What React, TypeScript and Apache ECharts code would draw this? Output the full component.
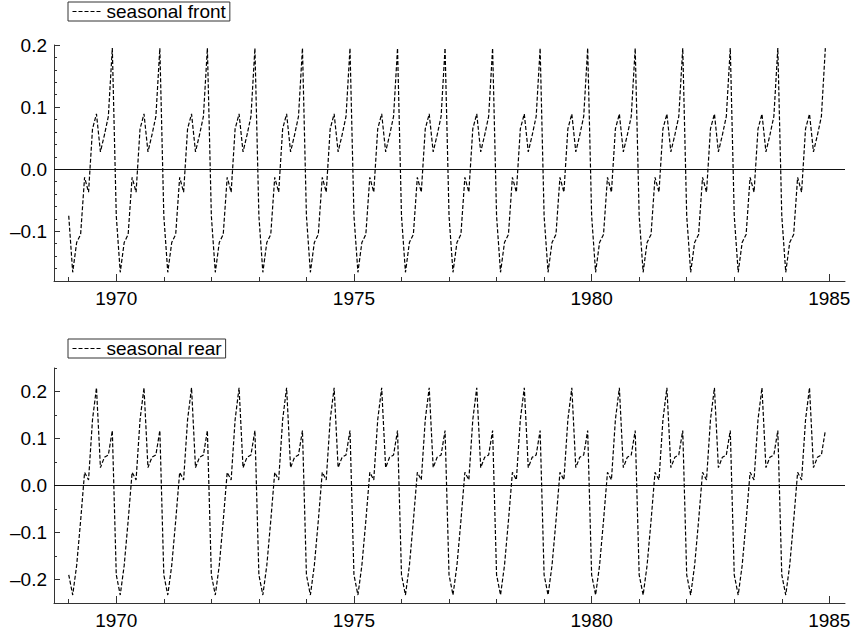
import React, { useEffect, useRef } from "react";
import * as echarts from "echarts";

// Years covered (monthly data, Jan 1969 – Dec 1984)
const years = [1969, 1970, 1971, 1972, 1973, 1974, 1975, 1976, 1977, 1978, 1979, 1980, 1981, 1982, 1983, 1984];

// Seasonal component, front (one row per year, Jan..Dec)
const seasonalFront = [
  -0.075, -0.166, -0.118, -0.105, -0.013, -0.037, 0.065, 0.089, 0.028, 0.055, 0.085, 0.195,
  -0.075, -0.166, -0.118, -0.105, -0.013, -0.037, 0.065, 0.089, 0.028, 0.055, 0.085, 0.195,
  -0.075, -0.166, -0.118, -0.105, -0.013, -0.037, 0.065, 0.089, 0.028, 0.055, 0.085, 0.195,
  -0.075, -0.166, -0.118, -0.105, -0.013, -0.037, 0.065, 0.089, 0.028, 0.055, 0.085, 0.195,
  -0.075, -0.166, -0.118, -0.105, -0.013, -0.037, 0.065, 0.089, 0.028, 0.055, 0.085, 0.195,
  -0.075, -0.166, -0.118, -0.105, -0.013, -0.037, 0.065, 0.089, 0.028, 0.055, 0.085, 0.195,
  -0.075, -0.166, -0.118, -0.105, -0.013, -0.037, 0.065, 0.089, 0.028, 0.055, 0.085, 0.195,
  -0.075, -0.166, -0.118, -0.105, -0.013, -0.037, 0.065, 0.089, 0.028, 0.055, 0.085, 0.195,
  -0.075, -0.166, -0.118, -0.105, -0.013, -0.037, 0.065, 0.089, 0.028, 0.055, 0.085, 0.195,
  -0.075, -0.166, -0.118, -0.105, -0.013, -0.037, 0.065, 0.089, 0.028, 0.055, 0.085, 0.195,
  -0.075, -0.166, -0.118, -0.105, -0.013, -0.037, 0.065, 0.089, 0.028, 0.055, 0.085, 0.195,
  -0.075, -0.166, -0.118, -0.105, -0.013, -0.037, 0.065, 0.089, 0.028, 0.055, 0.085, 0.195,
  -0.075, -0.166, -0.118, -0.105, -0.013, -0.037, 0.065, 0.089, 0.028, 0.055, 0.085, 0.195,
  -0.075, -0.166, -0.118, -0.105, -0.013, -0.037, 0.065, 0.089, 0.028, 0.055, 0.085, 0.195,
  -0.075, -0.166, -0.118, -0.105, -0.013, -0.037, 0.065, 0.089, 0.028, 0.055, 0.085, 0.195,
  -0.075, -0.166, -0.118, -0.105, -0.013, -0.037, 0.065, 0.089, 0.028, 0.055, 0.085, 0.195,
];

// Seasonal component, rear (one row per year, Jan..Dec)
const seasonalRear = [
  -0.19, -0.233, -0.17, -0.075, 0.028, 0.012, 0.14, 0.208, 0.038, 0.06, 0.065, 0.117,
  -0.19, -0.233, -0.17, -0.075, 0.028, 0.012, 0.14, 0.208, 0.038, 0.06, 0.065, 0.117,
  -0.19, -0.233, -0.17, -0.075, 0.028, 0.012, 0.14, 0.208, 0.038, 0.06, 0.065, 0.117,
  -0.19, -0.233, -0.17, -0.075, 0.028, 0.012, 0.14, 0.208, 0.038, 0.06, 0.065, 0.117,
  -0.19, -0.233, -0.17, -0.075, 0.028, 0.012, 0.14, 0.208, 0.038, 0.06, 0.065, 0.117,
  -0.19, -0.233, -0.17, -0.075, 0.028, 0.012, 0.14, 0.208, 0.038, 0.06, 0.065, 0.117,
  -0.19, -0.233, -0.17, -0.075, 0.028, 0.012, 0.14, 0.208, 0.038, 0.06, 0.065, 0.117,
  -0.19, -0.233, -0.17, -0.075, 0.028, 0.012, 0.14, 0.208, 0.038, 0.06, 0.065, 0.117,
  -0.19, -0.233, -0.17, -0.075, 0.028, 0.012, 0.14, 0.208, 0.038, 0.06, 0.065, 0.117,
  -0.19, -0.233, -0.17, -0.075, 0.028, 0.012, 0.14, 0.208, 0.038, 0.06, 0.065, 0.117,
  -0.19, -0.233, -0.17, -0.075, 0.028, 0.012, 0.14, 0.208, 0.038, 0.06, 0.065, 0.117,
  -0.19, -0.233, -0.17, -0.075, 0.028, 0.012, 0.14, 0.208, 0.038, 0.06, 0.065, 0.117,
  -0.19, -0.233, -0.17, -0.075, 0.028, 0.012, 0.14, 0.208, 0.038, 0.06, 0.065, 0.117,
  -0.19, -0.233, -0.17, -0.075, 0.028, 0.012, 0.14, 0.208, 0.038, 0.06, 0.065, 0.117,
  -0.19, -0.233, -0.17, -0.075, 0.028, 0.012, 0.14, 0.208, 0.038, 0.06, 0.065, 0.117,
  -0.19, -0.233, -0.17, -0.075, 0.028, 0.012, 0.14, 0.208, 0.038, 0.06, 0.065, 0.117,
];

const xLabelTicks = [1970, 1975, 1980, 1985];
const xYearTicks = [1969, 1970, 1971, 1972, 1973, 1974, 1975, 1976, 1977, 1978, 1979, 1980, 1981, 1982, 1983, 1984, 1985];
const frontYLabels = [-0.1, 0, 0.1, 0.2];
const frontYMinor = [-0.18, -0.16, -0.14, -0.12, -0.1, -0.08, -0.06, -0.04, -0.02, 0, 0.02, 0.04, 0.06, 0.08, 0.1, 0.12, 0.14, 0.16, 0.18, 0.2];
const rearYLabels = [-0.2, -0.1, 0, 0.1, 0.2];
const rearYMinor = [-0.25, -0.2, -0.15, -0.1, -0.05, 0, 0.05, 0.1, 0.15, 0.2, 0.25];

const FONT = "Liberation Sans";
const AXIS_COLOR = "#333";

function toPoints(values: number[]) {
  return values.map((v, i) => [years[Math.floor(i / 12)] + (i % 12) / 12, v]);
}

function fmtY(v: number) {
  if (Math.abs(v) < 1e-9) return "0.0";
  return (v < 0 ? "\u2013" : "") + Math.abs(v).toFixed(1);
}

const X_MIN = 1968.69;
const X_MAX = 1985.33;

function xAxes(gridIndex: number) {
  return [
    {
      type: "value",
      gridIndex,
      position: "bottom",
      min: X_MIN,
      max: X_MAX,
      axisLine: { show: true, onZero: false, lineStyle: { color: AXIS_COLOR, width: 1 } },
      axisTick: { show: true, inside: true, length: 7, customValues: xLabelTicks, lineStyle: { color: AXIS_COLOR } },
      axisLabel: {
        show: true,
        customValues: xLabelTicks,
        formatter: (v: number) => String(Math.round(v)),
        fontSize: 19,
        fontFamily: FONT,
        color: "#000",
        margin: 8,
      },
      splitLine: { show: false },
    },
    {
      type: "value",
      gridIndex,
      position: "bottom",
      min: X_MIN,
      max: X_MAX,
      axisLine: { show: false, onZero: false },
      axisTick: { show: true, inside: true, length: 4, customValues: xYearTicks, lineStyle: { color: AXIS_COLOR } },
      axisLabel: { show: false },
      splitLine: { show: false },
    },
  ];
}

function yAxes(gridIndex: number, min: number, max: number, labels: number[], minor: number[]) {
  return [
    {
      type: "value",
      gridIndex,
      position: "left",
      min,
      max,
      axisLine: { show: true, onZero: false, lineStyle: { color: AXIS_COLOR, width: 1 } },
      axisTick: { show: true, inside: true, length: 6, customValues: labels, lineStyle: { color: AXIS_COLOR } },
      axisLabel: {
        show: true,
        customValues: labels,
        formatter: fmtY,
        fontSize: 19,
        fontFamily: FONT,
        color: "#000",
        margin: 7,
      },
      splitLine: { show: false },
    },
    {
      type: "value",
      gridIndex,
      position: "left",
      min,
      max,
      axisLine: { show: false, onZero: false },
      axisTick: { show: true, inside: true, length: 3, customValues: minor, lineStyle: { color: AXIS_COLOR } },
      axisLabel: { show: false },
      splitLine: { show: false },
    },
  ];
}

function legendFor(name: string, top: number) {
  return {
    data: [name],
    left: 68,
    top,
    orient: "horizontal",
    borderColor: "#333",
    borderWidth: 1,
    borderRadius: 0,
    padding: [0, 4, 0, 4],
    itemWidth: 30,
    itemHeight: 14,
    selectedMode: false,
    itemStyle: { opacity: 0 },
    lineStyle: { type: [4, 2], width: 1, color: "#000" },
    textStyle: { fontSize: 19, fontFamily: FONT, color: "#000", padding: [1, 0, 0, -1] },
  };
}

const zeroLine = {
  silent: true,
  symbol: ["none", "none"],
  label: { show: false },
  lineStyle: { color: "#111", type: "solid", width: 1 },
  data: [{ yAxis: 0 }],
};

export default function App() {
  const ref = useRef<HTMLDivElement>(null);

  useEffect(() => {
    if (!ref.current) return;
    const chart = echarts.init(ref.current, undefined, { renderer: "svg" });
    chart.setOption({
      animation: false,
      backgroundColor: "#fff",
      grid: [
        { left: 54, top: 45, width: 791, height: 236 },
        { left: 54, top: 368, width: 791, height: 235 },
      ],
      legend: [legendFor("seasonal front", 2), legendFor("seasonal rear", 339)],
      xAxis: [...xAxes(0), ...xAxes(1)],
      yAxis: [
        ...yAxes(0, -0.18, 0.2, frontYLabels, frontYMinor),
        ...yAxes(1, -0.25, 0.25, rearYLabels, rearYMinor),
      ],
      series: [
        {
          name: "seasonal front",
          type: "line",
          xAxisIndex: 0,
          yAxisIndex: 0,
          data: toPoints(seasonalFront),
          symbol: "none",
          lineStyle: { color: "#000", width: 1.2, type: [4, 2] },
          itemStyle: { color: "#000" },
          markLine: zeroLine,
        },
        {
          name: "seasonal rear",
          type: "line",
          xAxisIndex: 2,
          yAxisIndex: 2,
          data: toPoints(seasonalRear),
          symbol: "none",
          lineStyle: { color: "#000", width: 1.2, type: [4, 2] },
          itemStyle: { color: "#000" },
          markLine: zeroLine,
        },
      ],
    });
    return () => chart.dispose();
  }, []);

  return (
    <div
      ref={ref}
      style={{ position: "fixed", left: 0, top: 0, width: 858, height: 631, background: "#fff" }}
    />
  );
}
